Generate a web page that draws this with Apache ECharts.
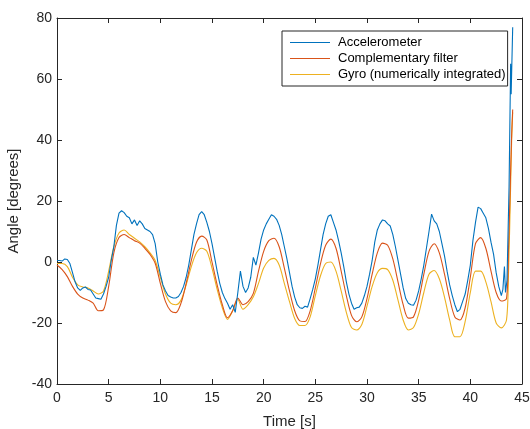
<!DOCTYPE html>
<html>
<head>
<meta charset="utf-8">
<script src="https://cdn.jsdelivr.net/npm/echarts@6/dist/echarts.min.js"></script>
<style>html,body{margin:0;padding:0;background:#fff}#chart{width:530px;height:429px}</style>
</head>
<body>
<div id="chart"></div>
<script>
// ---- data ----
var seriesNames = ['Accelerometer', 'Complementary filter', 'Gyro (numerically integrated)'];
var xTicks = [0, 5, 10, 15, 20, 25, 30, 35, 40, 45];
var yTicks = [-40, -20, 0, 20, 40, 60, 80];

// accelerometer, sampled every 0.25 s from 0 to 43.0 s
var accelGrid = [
 0.5,0.5,0.3,1,0.8,-0.5,-3.5,-6.5,-8.5,-9.3,-8.5,-8.2,-9,-9.2,-10.5,-11.8,-12,-12.2,-10.5,-8,
 -5,0.5,5,12,16,16.8,16.2,15,14.5,12.5,13.8,12,13.5,12.5,11,10.5,10,9,6,0,
 -4,-7.5,-9.5,-11,-11.5,-11.8,-11.8,-11.3,-10,-8,-5,-1,4,9,12.5,15.5,16.5,15.5,13,10,
 6,1.5,-3,-7,-10,-12,-13.5,-15.5,-14,-16.5,-10,-3,-8,-10,-8.5,-5,1.5,-1,3,7.5,
 10.5,12.5,14,15.5,15,14,12,9,5,1,-3.5,-8,-11.5,-14,-15,-15.2,-14.5,-14.8,-12,-9,
 -5.5,-1,4,9,12.5,15,15.5,13,10.5,7,3,-1.5,-6.5,-10.5,-13.5,-15.5,-15,-14.8,-13.5,-11,
 -8,-4,0.5,6.5,10.5,12.5,13.8,13.5,12.5,11.8,9,5,0.5,-4,-8.5,-12,-13.5,-14,-14.2,-12.5,
 -9.5,-5.5,-1,4.5,10,15.7,13.5,12.5,10,6,2,-3,-7.5,-11,-14,-16.3,-15.5,-13,-10.5,-6,
 -1,7,13,18,17.5,16,14.5,11,6.5,2.5,-3.5,-8,-11
];
// accelerometer, final irregular samples
var accelEndTime  = [43.15, 43.3, 43.4, 43.55, 43.75, 43.9, 43.95, 44.1];
var accelEndValue = [-9, -1.5, -10, -6, 25, 65, 55, 77];

// complementary filter and gyro, sampled every 0.5 s from 0 to 43.5 s
var compGrid = [
 -1,-2.5,-4.8,-8,-10.5,-11.8,-12.5,-13.5,-16,-15.7,-8,3,8,9,8,7,6.2,4.5,2.5,-0.4,
 -7,-13,-16,-16.6,-13.5,-7,0.5,6.5,8.5,7.2,0,-7.5,-14,-18.3,-16,-11.8,-14,-13,-10.3,-3,
 3.5,7,7.8,5,-2,-9.5,-16,-19.3,-19.5,-16,-8.5,-0.5,5.5,7.5,4.5,-3,-11,-17.5,-19.6,-18,
 -12,-4,3,6.2,5.5,1,-6.5,-14,-18.4,-18,-12.5,-4,3.5,6,3,-4,-12,-18,-19,-15,
 -5,6,8,4.5,-3,-10,-12.8,-12
];
var gyroGrid = [
 -0.5,-0.5,-1.5,-5,-7.5,-8.2,-8.5,-9.5,-10.5,-9.5,-3,5,9.5,10.5,9,7.8,6.6,5,3,0.5,
 -5,-10.5,-13.5,-14,-12.5,-7.5,-1.5,3,4.5,3.5,-2,-9,-15,-18.8,-16,-12.3,-15.5,-14,-11.4,-7,
 -2,0.5,1.2,-1,-7,-13,-18.5,-20.8,-20.8,-18,-11,-4.5,-0.5,0,-3,-9.5,-16.5,-21.5,-22.3,-20.5,
 -14.5,-8,-3.5,-2.1,-2.5,-6,-12.5,-19,-22.3,-21.5,-17,-10,-4,-2.8,-5.5,-11.5,-19,-24.5,-24.5,-19.5,
 -10,-3,-3,-6.5,-13,-20,-21.6,-19
];
var endTime  = [43.7, 43.9, 44.0, 44.1];
var compEnd  = [5, 30, 42, 50];
var gyroEnd  = [-3, 25, 40, 49];

// ---- build series (time stamps from sampling step) ----
function gridPairs(values, step, endT, endV) {
  var out = [];
  for (var i = 0; i < values.length; i++) out.push([+(i * step).toFixed(3), values[i]]);
  for (var j = 0; j < endT.length; j++) out.push([endT[j], endV[j]]);
  return out;
}
var accelData = gridPairs(accelGrid, 0.25, accelEndTime, accelEndValue);
var compData = gridPairs(compGrid, 0.5, endTime, compEnd);
var gyroData = gridPairs(gyroGrid, 0.5, endTime, gyroEnd);

var colors = ['#0072BD', '#D95319', '#EDB120'];
var txt = '#262626';
var font = "'Liberation Sans', Arial, Helvetica, sans-serif";

var chart = echarts.init(document.getElementById('chart'), null, {renderer: 'canvas'});
var axisCommon = {
  axisLine: {show: true, onZero: false, lineStyle: {color: txt, width: 1}},
  axisTick: {show: true, inside: true, length: 5, lineStyle: {color: txt}},
  splitLine: {show: false}
};
chart.setOption({
  animation: false,
  backgroundColor: '#fff',
  color: colors,
  grid: {left: 57, right: 8, top: 18, bottom: 45, containLabel: false, outerBoundsMode: 'none'},
  legend: {
    data: seriesNames,
    orient: 'vertical',
    left: 282, top: 31,
    padding: [5, 2, 5, 8],
    itemGap: 3,
    itemWidth: 40,
    itemHeight: 1.2,
    icon: 'rect',
    backgroundColor: '#fff',
    borderColor: txt,
    borderWidth: 1,
    borderRadius: 0,
    textStyle: {fontFamily: font, fontSize: 13, color: '#000', padding: [0, 0, 0, 3]}
  },
  xAxis: [
    Object.assign({type: 'value', min: xTicks[0], max: xTicks[xTicks.length - 1], interval: 5, position: 'bottom',
      name: 'Time [s]', nameLocation: 'middle', nameGap: 30,
      nameTextStyle: {fontFamily: font, fontSize: 15, color: txt},
      axisLabel: {fontFamily: font, fontSize: 14, color: txt, margin: 7}}, axisCommon),
    Object.assign({type: 'value', min: xTicks[0], max: xTicks[xTicks.length - 1], interval: 5, position: 'top',
      axisLabel: {show: false}}, axisCommon)
  ],
  yAxis: [
    Object.assign({type: 'value', min: yTicks[0], max: yTicks[yTicks.length - 1], interval: 20, position: 'left',
      name: 'Angle [degrees]', nameLocation: 'middle', nameGap: 31,
      nameTextStyle: {fontFamily: font, fontSize: 15, color: txt},
      axisLabel: {fontFamily: font, fontSize: 14, color: txt, margin: 5}}, axisCommon),
    Object.assign({type: 'value', min: yTicks[0], max: yTicks[yTicks.length - 1], interval: 20, position: 'right',
      axisLabel: {show: false}}, axisCommon)
  ],
  series: [
    {name: seriesNames[0], type: 'line', data: accelData, symbol: 'none', lineStyle: {width: 1.1, color: colors[0]}, itemStyle: {color: colors[0]}, z: 3},
    {name: seriesNames[1], type: 'line', data: compData, smooth: 0.3, symbol: 'none', lineStyle: {width: 1.1, color: colors[1]}, itemStyle: {color: colors[1]}, z: 2},
    {name: seriesNames[2], type: 'line', data: gyroData, smooth: 0.3, symbol: 'none', lineStyle: {width: 1.1, color: colors[2]}, itemStyle: {color: colors[2]}, z: 1}
  ]
});
</script>
</body>
</html>
